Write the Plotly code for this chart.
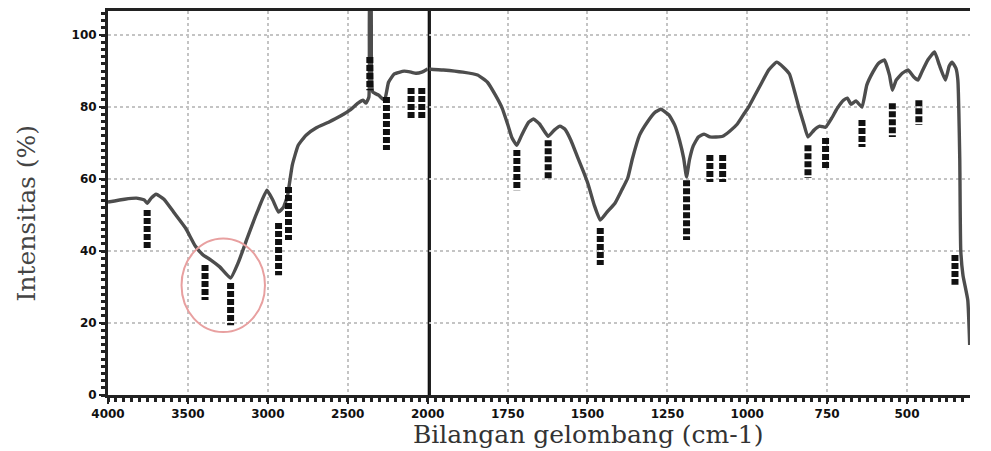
import plotly.graph_objects as go

# ---------------- data ----------------
wavenumber = [4000, 3896, 3822, 3773, 3755, 3730, 3699, 3650, 3589, 3515, 3454, 3405, 3356, 3301,
              3233, 3184, 3129, 3067, 3006, 2969, 2933, 2902, 2877, 2871, 2847, 2810, 2761, 2699,
              2620, 2546, 2485, 2436, 2405, 2386, 2368, 2362, 2356, 2344, 2307, 2270, 2245, 2209,
              2147, 2104, 2074, 2037, 2000,
              1951, 1890, 1844, 1813, 1788, 1767, 1749, 1736, 1721, 1706, 1684, 1669, 1650, 1635,
              1623, 1604, 1586, 1571, 1552, 1531, 1512, 1497, 1479, 1460, 1439, 1414, 1393, 1374,
              1359, 1337, 1313, 1288, 1270, 1245, 1227, 1212, 1199, 1190, 1181, 1169, 1153, 1135,
              1117, 1098, 1077, 1055, 1031, 1009, 994, 976, 954, 933, 908, 887, 868, 853, 838,
              822, 810, 791, 773, 755, 736, 718, 699, 687, 675, 660, 641, 626, 607, 589, 571,
              555, 546, 534, 515, 497, 478, 466, 454, 435, 414, 399, 380, 368, 359, 347, 341,
              335, 332, 325, 310, 304]
intensity = [53.6, 54.4, 54.7, 54.2, 53.3, 54.7, 55.8, 54.4, 50.8, 46.4, 41.4, 38.9, 37.5, 35.6,
             32.5, 36.9, 43.6, 50.8, 56.9, 54.2, 50.8, 52.2, 55.3, 56.9, 63.9, 69.4, 72.2, 74.2,
             75.8, 77.5, 79.2, 81.1, 81.9, 81.1, 82.8, 112.0, 112.0, 84.2, 83.3, 81.9, 86.9, 89.2,
             90.0, 89.7, 89.4, 89.7, 90.6,
             90.3, 89.7, 88.9, 86.9, 83.3, 79.7, 75.0, 71.4, 69.4, 72.2, 75.8, 76.7, 75.3, 73.3,
             71.9, 73.6, 74.7, 73.9, 70.8, 66.1, 61.9, 58.3, 52.8, 48.6, 50.8, 53.3, 56.9, 60.3,
             65.8, 72.2, 75.8, 78.6, 79.4, 77.8, 75.0, 70.8, 65.8, 60.6, 65.3, 69.2, 71.7, 72.5,
             71.7, 71.7, 71.9, 73.3, 75.3, 78.3, 80.3, 83.3, 86.9, 90.3, 92.5, 91.1, 89.2, 84.7, 79.7,
             75.0, 71.7, 73.6, 74.7, 74.4, 76.9, 79.7, 81.9, 82.5, 80.8, 81.7, 80.0, 86.1, 89.7, 92.2, 93.1,
             88.9, 84.7, 87.5, 89.4, 90.3, 88.3, 87.5, 89.7, 93.1, 95.3, 91.7, 87.5, 91.4, 92.5, 90.8, 87.5,
             65.3, 40.3, 33.3, 26.4, 13.9]

# peak-pick markers: wavenumber, top and bottom of each marker stub
peak_wn = [3755, 3393, 3233, 2933, 2871, 2362, 2258, 2104, 2037,
           1721, 1623, 1460, 1190, 1117, 1077, 810, 755, 641, 546, 463, 350]
peak_top = [51.4, 36.1, 31.1, 47.8, 57.8, 93.9, 82.8, 85.3, 85.3,
            68.1, 70.8, 46.4, 59.7, 66.7, 66.7, 69.4, 71.4, 76.4, 81.1, 81.9, 38.9]
peak_bottom = [40.3, 26.4, 19.4, 33.3, 43.1, 84.7, 68.1, 76.9, 76.9,
               56.9, 59.7, 36.1, 43.1, 59.2, 59.2, 60.3, 63.1, 68.9, 71.7, 75.0, 30.6]

# highlighted band (circle): centre and half-sizes in data units
highlight_center = (3279, 30.5)
highlight_half = (261, 13.0)

y_ticks = [0, 20, 40, 60, 80, 100]
x_ticks_high = [4000, 3500, 3000, 2500, 2000]
x_ticks_low = [1750, 1500, 1250, 1000, 750, 500]
x_label = "Bilangan gelombang (cm-1)"
y_label = "Intensitas (%)"

BREAK = 2000          # scale change of the wavenumber axis
X_HIGH = 4000
X_LOW = 303
Y_MAX = 106.7

# ---------------- figure ----------------
LEFT_FRAC = 326 / 879  # share of plot width used by the 4000-2000 part

fig = go.Figure()

hi = [(w, v) for w, v in zip(wavenumber, intensity) if w >= BREAK]
lo = [(w, v) for w, v in zip(wavenumber, intensity) if w <= BREAK]
line_style = dict(color="#4d4d4d", width=3.4, shape="spline", smoothing=0.4)
fig.add_trace(go.Scatter(x=[p[0] for p in hi], y=[p[1] for p in hi], mode="lines",
                         line=line_style, xaxis="x", yaxis="y", showlegend=False))
fig.add_trace(go.Scatter(x=[p[0] for p in lo], y=[p[1] for p in lo], mode="lines",
                         line=line_style, xaxis="x2", yaxis="y", showlegend=False))

for axis, keep in (("x", lambda w: w >= BREAK), ("x2", lambda w: w < BREAK)):
    xs, ys = [], []
    for w, t, b in zip(peak_wn, peak_top, peak_bottom):
        if keep(w):
            xs += [w, w, None]
            ys += [t, b, None]
    fig.add_trace(go.Scatter(x=xs, y=ys, mode="lines", xaxis=axis, yaxis="y",
                             line=dict(color="#111111", width=7, dash="6px,2px"),
                             showlegend=False))

grid = dict(showgrid=True, gridcolor="#c4c4c4", griddash="dot", gridwidth=2)
tick_font = dict(family="DejaVu Sans", size=12, color="#111111", weight="bold")
common_x = dict(showline=True, linecolor="#222222", linewidth=3, mirror=True,
                ticks="outside", ticklen=6, tickwidth=2, tickcolor="#222222",
                tickfont=tick_font, zeroline=False, anchor="y", **grid)

fig.update_layout(
    width=991, height=451,
    margin=dict(l=108, r=4, t=11, b=56),
    paper_bgcolor="white", plot_bgcolor="white",
    xaxis=dict(domain=[0, LEFT_FRAC], range=[X_HIGH, BREAK], tickvals=x_ticks_high,
               minor=dict(dtick=50, ticks="outside", ticklen=4, tickwidth=3,
                          tickcolor="#222222", showgrid=False),
               **common_x),
    xaxis2=dict(domain=[LEFT_FRAC, 1], range=[BREAK, X_LOW], tickvals=x_ticks_low,
                minor=dict(dtick=25, ticks="outside", ticklen=4, tickwidth=3,
                           tickcolor="#222222", showgrid=False),
                **common_x),
    yaxis=dict(range=[0, Y_MAX], tickvals=y_ticks, showline=True, linecolor="#222222",
               linewidth=3, mirror=True, ticks="outside", ticklen=6, tickwidth=2,
               tickcolor="#222222", tickfont=tick_font, zeroline=False,
               minor=dict(dtick=2, ticks="outside", ticklen=4, tickwidth=3,
                          tickcolor="#222222", showgrid=False),
               **grid),
    shapes=[
        dict(type="line", xref="x2", yref="paper", x0=BREAK, x1=BREAK, y0=0, y1=1,
             line=dict(color="#111111", width=3)),
        dict(type="circle", xref="x", yref="y",
             x0=highlight_center[0] + highlight_half[0], x1=highlight_center[0] - highlight_half[0],
             y0=highlight_center[1] - highlight_half[1], y1=highlight_center[1] + highlight_half[1],
             line=dict(color="#e8a0a0", width=2)),
    ],
    annotations=[
        dict(text=x_label, xref="paper", yref="paper", x=0.557, y=-0.103,
             xanchor="center", yanchor="middle", showarrow=False,
             font=dict(family="DejaVu Serif", size=25, color="#333333")),
        dict(text=y_label, xref="paper", yref="paper", x=-0.0944, y=0.474,
             xanchor="center", yanchor="middle", textangle=-90, showarrow=False,
             font=dict(family="DejaVu Serif", size=25, color="#444444")),
    ],
)

fig.write_html("out.html", config={"displayModeBar": False},
               post_script="document.body.style.margin='0';document.body.style.overflow='hidden';")
